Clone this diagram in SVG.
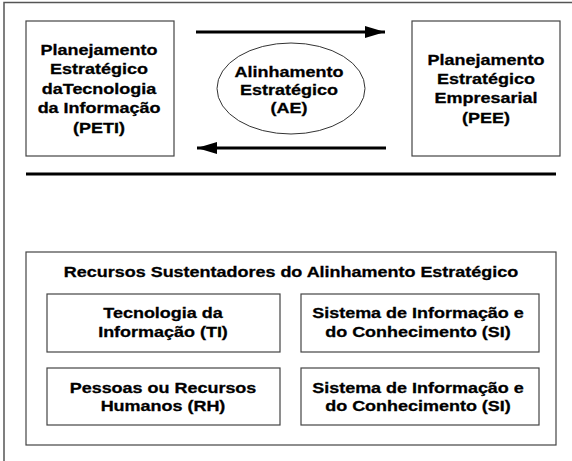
<svg xmlns="http://www.w3.org/2000/svg" width="572" height="461" viewBox="0 0 572 461">
  <style>
    .bx { fill: #fff; stroke: #444; stroke-width: 1.2; }
    .t { font-family: "Liberation Sans", Arial, sans-serif; font-weight: bold; font-size: 15.5px; fill: #000; stroke: #000; stroke-width: 0.3; text-anchor: middle; }
    .frame { stroke: #555; stroke-width: 1.5; fill: none; }
    .conn { stroke: #000; stroke-width: 3; fill: none; }
  </style>
  <defs>
    <marker id="ah" markerUnits="userSpaceOnUse" markerWidth="22" markerHeight="14" refX="20" refY="6" orient="auto">
      <polygon points="0,0 20,6 0,12" fill="#000"/>
    </marker>
  </defs>
  <rect width="572" height="461" fill="#fff"/>
  <g id="frame">
    <path class="frame" d="M4,461 V2.5 H572"/>
  </g>

  <g id="peti">
    <rect class="bx" x="26" y="21" width="148" height="135"/>
    <g transform="translate(99 0) scale(1.16 1)">
      <text class="t" x="0" y="55">Planejamento</text>
      <text class="t" x="0" y="74.5">Estratégico</text>
      <text class="t" x="0" y="94">daTecnologia</text>
      <text class="t" x="0" y="113.5">da Informação</text>
      <text class="t" x="0" y="133">(PETI)</text>
    </g>
  </g>

  <g id="ae">
    <ellipse cx="291" cy="88.5" rx="74" ry="45.5" fill="#fff" stroke="#333" stroke-width="1"/>
    <g transform="translate(289 0) scale(1.16 1)">
      <text class="t" x="0" y="77">Alinhamento</text>
      <text class="t" x="0" y="95">Estratégico</text>
      <text class="t" x="0" y="113">(AE)</text>
    </g>
  </g>

  <g id="pee">
    <rect class="bx" x="412" y="21" width="148" height="135"/>
    <g transform="translate(486 0) scale(1.16 1)">
      <text class="t" x="0" y="65">Planejamento</text>
      <text class="t" x="0" y="84">Estratégico</text>
      <text class="t" x="0" y="103">Empresarial</text>
      <text class="t" x="0" y="123">(PEE)</text>
    </g>
  </g>

  <g id="connectors">
    <line class="conn" x1="196" y1="32" x2="385" y2="32" marker-end="url(#ah)"/>
    <line class="conn" x1="386" y1="148" x2="197" y2="148" marker-end="url(#ah)"/>
    <line class="conn" x1="26" y1="174" x2="556" y2="174"/>
  </g>

  <g id="recursos">
    <rect class="bx" x="26" y="252" width="530" height="193"/>
    <g transform="translate(291 0) scale(1.16 1)">
      <text class="t" x="0" y="277">Recursos Sustentadores do Alinhamento Estratégico</text>
    </g>
  </g>

  <g id="ti">
    <rect class="bx" x="47" y="294" width="233" height="58"/>
    <g transform="translate(163 0) scale(1.16 1)">
      <text class="t" x="0" y="318">Tecnologia da</text>
      <text class="t" x="0" y="337">Informação (TI)</text>
    </g>
  </g>

  <g id="si1">
    <rect class="bx" x="301" y="294" width="238" height="58"/>
    <g transform="translate(418 0) scale(1.16 1)">
      <text class="t" x="0" y="318">Sistema de Informação e</text>
      <text class="t" x="0" y="337">do Conhecimento (SI)</text>
    </g>
  </g>

  <g id="rh">
    <rect class="bx" x="47" y="368" width="233" height="57"/>
    <g transform="translate(163 0) scale(1.16 1)">
      <text class="t" x="0" y="393">Pessoas ou Recursos</text>
      <text class="t" x="0" y="411">Humanos (RH)</text>
    </g>
  </g>

  <g id="si2">
    <rect class="bx" x="301" y="368" width="238" height="57"/>
    <g transform="translate(418 0) scale(1.16 1)">
      <text class="t" x="0" y="393">Sistema de Informação e</text>
      <text class="t" x="0" y="411">do Conhecimento (SI)</text>
    </g>
  </g>
</svg>
